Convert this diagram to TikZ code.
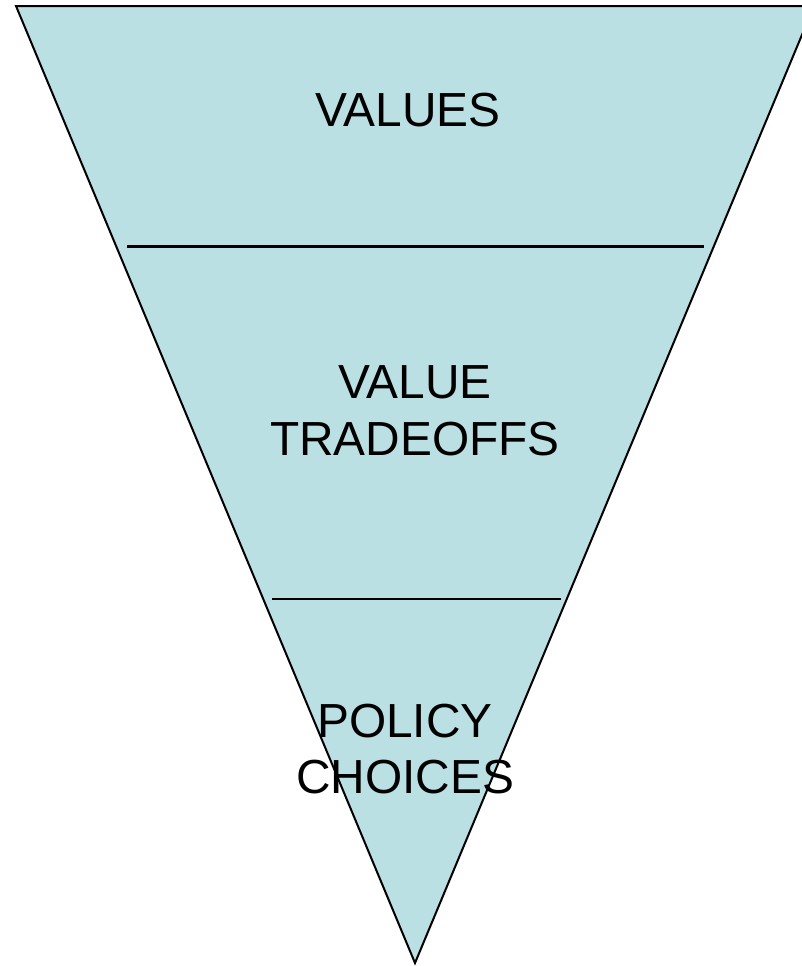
\documentclass[tikz,border=0pt]{standalone}
\usepackage{fontspec}
\setmainfont{Liberation Sans}
\definecolor{funnelblue}{RGB}{187,224,227}

\begin{document}
\begin{tikzpicture}[x=1bp,y=-1bp,
	label/.style={inner sep=0pt,align=center,font=\fontsize{48}{56.7}\selectfont},
	divider/.style={line width=2.2bp}]

	\useasboundingbox (0,0) rectangle (802,966);
	\clip (0,0) rectangle (802,966);

	% the funnel
	\coordinate (tl) at (16,6);
	\coordinate (tr) at (814,6);
	\coordinate (tip) at (415,963);
	\draw[fill=funnelblue,line width=2bp,line join=miter] (tl) -- (tr) -- (tip) -- cycle;

	% dividing lines
	\coordinate (a1) at (127,246.5);
	\coordinate (a2) at (704,246.5);
	\coordinate (b1) at (272,599);
	\coordinate (b2) at (561,599);
	\draw[divider] (a1) -- (a2);
	\draw[divider] (b1) -- (b2);

	\node[label] (values) at (408,110.5) {VALUES};
	\node[label] (tradeoffs) at (415,411) {VALUE\\TRADEOFFS};
	\node[label] (choices) at (405,749) {POLICY\\CHOICES};

\end{tikzpicture}
\end{document}
